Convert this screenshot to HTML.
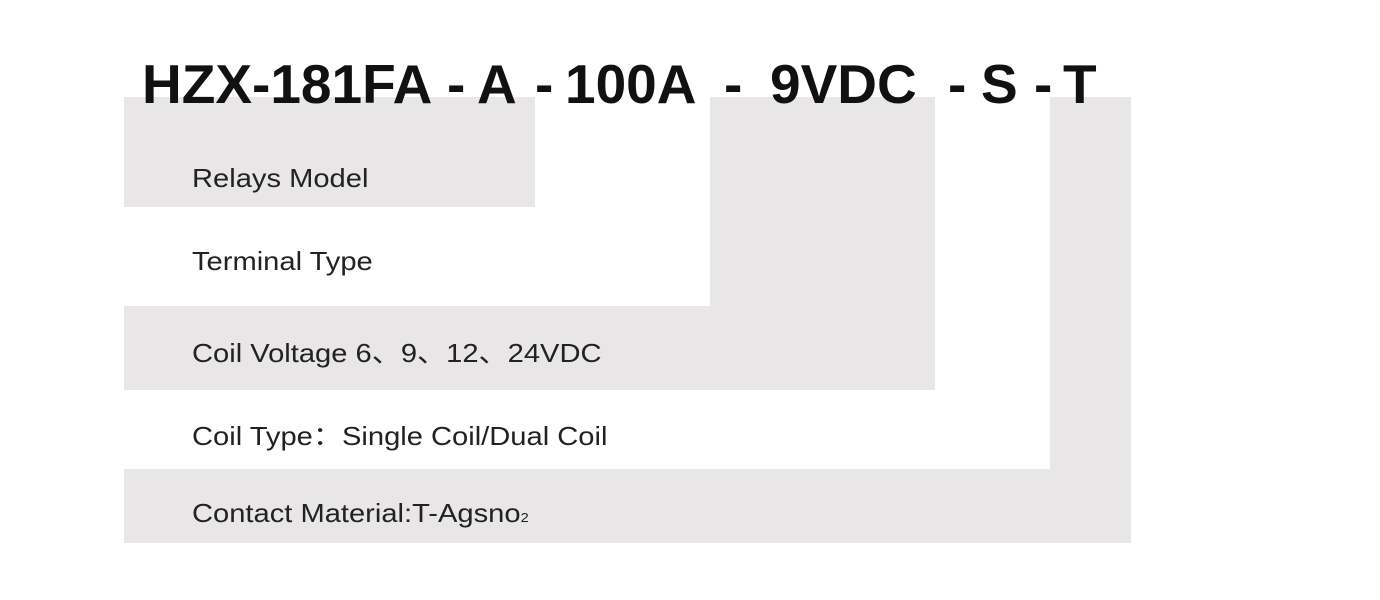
<!DOCTYPE html>
<html><head><style>
body{margin:0;width:1380px;height:600px;background:#fff;position:relative;overflow:hidden;font-family:"Liberation Sans","Noto Sans CJK SC",sans-serif}
.g{position:absolute;background:#e8e6e6}
.t{position:absolute;top:49px;font-weight:bold;font-size:55px;line-height:70px;color:#111;white-space:nowrap}
.l{position:absolute;left:192px;font-size:26px;line-height:30px;color:#222;white-space:nowrap;transform:scaleX(1.12);transform-origin:0 0}
</style></head><body>
<div class="g" style="left:124px;top:97px;width:411px;height:110px"></div>
<div class="g" style="left:710px;top:97px;width:225px;height:293px"></div>
<div class="g" style="left:124px;top:306px;width:811px;height:84px"></div>
<div class="g" style="left:1050px;top:97px;width:81px;height:446px"></div>
<div class="g" style="left:124px;top:469px;width:1007px;height:74px"></div>
<span class="t" style="left:142px">HZX-181FA</span>
<span class="t" style="left:447px">-</span>
<span class="t" style="left:477px">A</span>
<span class="t" style="left:535px">-</span>
<span class="t" style="left:565px">100A</span>
<span class="t" style="left:724px">-</span>
<span class="t" style="left:770px">9VDC</span>
<span class="t" style="left:948px">-</span>
<span class="t" style="left:981px">S</span>
<span class="t" style="left:1034px">-</span>
<span class="t" style="left:1063px">T</span>
<div class="l" style="top:163px">Relays Model</div>
<div class="l" style="top:246px">Terminal Type</div>
<div class="l" style="top:338px">Coil Voltage 6、9、12、24VDC</div>
<div class="l" style="top:421px">Coil Type：Single Coil/Dual Coil</div>
<div class="l" style="top:498px">Contact Material:T-Agsno<span style="font-size:13px">2</span></div>
</body></html>
